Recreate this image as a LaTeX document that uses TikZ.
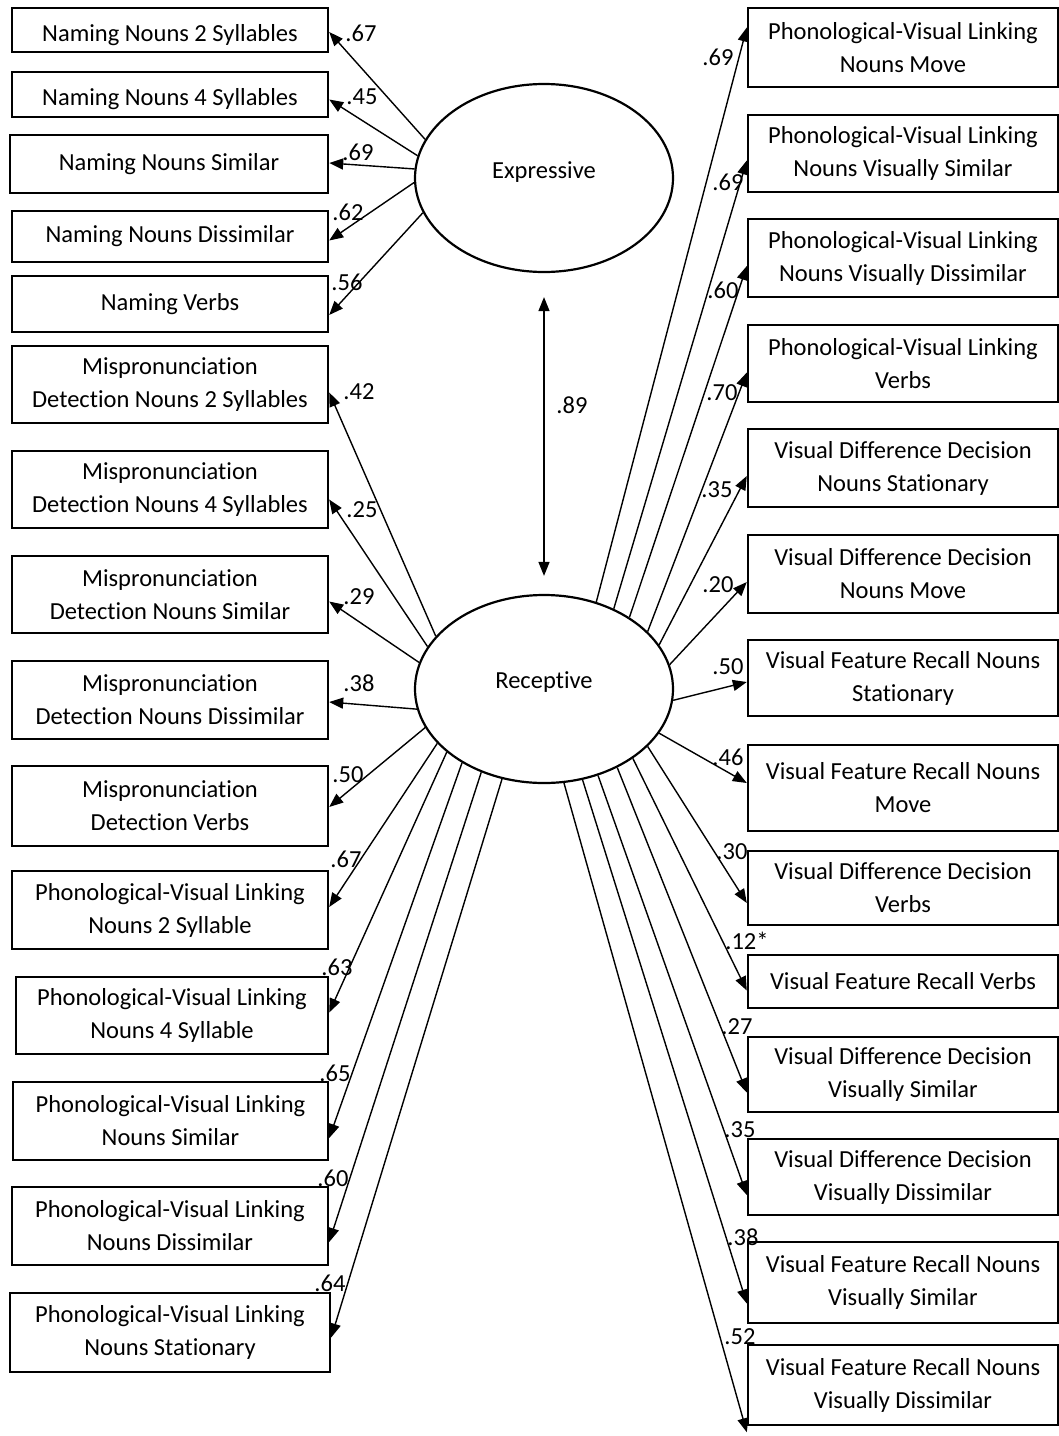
\documentclass[tikz,border=0pt]{standalone}
\usepackage{fontspec}
\setmainfont{Carlito}[Ligatures=NoCommon]
\usetikzlibrary{shapes,arrows.meta,positioning}

\tikzset{
  obs/.style={draw, line width=1.2pt, minimum width=158pt, minimum height=38.5pt,
    inner sep=0pt, align=center, font=\fontsize{12.25}{16.5}\selectfont},
  robs/.style={obs, minimum width=155pt},
  latent/.style={draw, ellipse, line width=1.1pt, minimum width=129pt,
    minimum height=94pt, inner sep=0pt, font=\fontsize{12.25}{16.5}\selectfont},
  loadarrow/.style={-{Triangle[length=7pt,width=5.5pt]}, line width=0.7pt},
  coef/.style={inner sep=0pt, font=\fontsize{12.25}{16.5}\selectfont}
}

\begin{document}
\begin{tikzpicture}[x=0.5pt, y=-0.5pt]
    \useasboundingbox (0,0) rectangle (1059,1436);

    % Factors
    \node [latent] (exp) at (544,178) {\raisebox{8pt}{Expressive}};
    \node [latent] (rec) at (544,689) {\raisebox{8.5pt}{Receptive}};

    % Expressive indicators
    \node [obs, minimum height=22pt] (nam2) at (170,30) {\raisebox{-5pt}[\height]{Naming Nouns 2 Syllables}};
    \node [obs, minimum height=22.5pt] (nam4) at (170,94.5) {\raisebox{-5pt}[\height]{Naming Nouns 4 Syllables}};
    \node [obs, minimum height=29pt, minimum width=159pt] (namsim) at (169,164) {Naming Nouns Similar};
    \node [obs, minimum height=25.5pt] (namdis) at (170,236.5) {Naming Nouns Dissimilar};
    \node [obs, minimum height=28pt] (namverb) at (170,304) {Naming Verbs};

    % Receptive indicators, left
    \node [obs] (mis2) at (170,384.5) {Mispronunciation\\Detection Nouns 2 Syllables};
    \node [obs] (mis4) at (170,489.5) {Mispronunciation\\Detection Nouns 4 Syllables};
    \node [obs] (missim) at (170,594.5) {Mispronunciation\\Detection Nouns Similar};
    \node [obs, minimum height=39pt] (misdis) at (170,700) {Mispronunciation\\Detection Nouns Dissimilar};
    \node [obs, minimum height=40pt] (misverb) at (170,806) {Mispronunciation\\Detection Verbs};
    \node [obs, minimum height=39pt] (pvl2) at (170,910) {Phonological-Visual Linking\\Nouns 2 Syllable};
    \node [obs, minimum width=156pt] (pvl4) at (172,1015.5) {Phonological-Visual Linking\\Nouns 4 Syllable};
    \node [obs, minimum height=39pt, minimum width=157.5pt] (pvlsim) at (170.5,1121) {Phonological-Visual Linking\\Nouns Similar};
    \node [obs, minimum height=39pt] (pvldis) at (170,1226) {Phonological-Visual Linking\\Nouns Dissimilar};
    \node [obs, minimum height=39.5pt, minimum width=160pt] (pvlstat) at (170,1332.5) {Phonological-Visual Linking\\Nouns Stationary};

    % Receptive indicators, right
    \node [robs, minimum height=39.5pt] (pvlmove) at (903,47.5) {Phonological-Visual Linking\\Nouns Move};
    \node [robs] (pvlvsim) at (903,153.5) {Phonological-Visual Linking\\Nouns Visually Similar};
    \node [robs, minimum height=39pt] (pvlvdis) at (903,258) {Phonological-Visual Linking\\Nouns Visually Dissimilar};
    \node [robs] (pvlverb) at (903,363.5) {Phonological-Visual Linking\\Verbs};
    \node [robs, minimum height=39pt] (vddstat) at (903,468) {Visual Difference Decision\\Nouns Stationary};
    \node [robs, minimum height=39pt] (vddmove) at (903,574) {Visual Difference Decision\\Nouns Move};
    \node [robs, minimum height=38pt] (vfrstat) at (903,678) {Visual Feature Recall Nouns\\Stationary};
    \node [robs, minimum height=43pt] (vfrmove) at (903,788) {Visual Feature Recall Nouns\\Move};
    \node [robs, minimum height=37pt] (vddverb) at (903,888) {Visual Difference Decision\\Verbs};
    \node [robs, minimum height=26.5pt] (vfrverb) at (903,981.5) {Visual Feature Recall Verbs};
    \node [robs, minimum height=37.5pt] (vddvsim) at (903,1074.5) {Visual Difference Decision\\Visually Similar};
    \node [robs, minimum height=38pt] (vddvdis) at (903,1177) {Visual Difference Decision\\Visually Dissimilar};
    \node [robs, minimum height=40.5pt] (vfrvsim) at (903,1282.5) {Visual Feature Recall Nouns\\Visually Similar};
    \node [robs, minimum height=40pt] (vfrvdis) at (903,1385) {Visual Feature Recall Nouns\\Visually Dissimilar};

    % Factor correlation
    \draw [{Triangle[length=7pt,width=5.5pt]}-{Triangle[length=7pt,width=5.5pt]}, line width=0.7pt,
      shorten <=12pt, shorten >=9pt] (exp.south) -- (rec.north);
    \node [coef] (r) at (572,405) {.89};

    % Expressive loadings
    \draw [loadarrow] (exp.162) -- ([yshift=-1pt]nam2.east);
    \draw [loadarrow] (exp.170) -- ([yshift=-2.5pt]nam4.east);
    \draw [loadarrow] (exp.176) -- ([yshift=0.5pt]namsim.east);
    \draw [loadarrow] (exp.182) -- ([yshift=-2pt]namdis.east);
    \draw [loadarrow] (exp.196) -- ([yshift=-5.5pt]namverb.east);
    \node [coef] (c-nam2) at (361,33) {.67};
    \node [coef] (c-nam4) at (362,97) {.45};
    \node [coef] (c-namsim) at (358,152) {.69};
    \node [coef] (c-namdis) at (348,212) {.62};
    \node [coef] (c-namverb) at (347,282) {.56};

    % Receptive loadings, left
    \draw [loadarrow] (rec.154.5) -- ([yshift=-4pt]mis2.east);
    \draw [loadarrow] (rec.160) -- ([yshift=-5pt]mis4.east);
    \draw [loadarrow] (rec.168) -- ([yshift=-3.5pt]missim.east);
    \draw [loadarrow] (rec.189) -- ([yshift=-1pt]misdis.east);
    \draw [loadarrow] (rec.198) -- ([yshift=-0.5pt]misverb.east);
    \draw [loadarrow] (rec.207) -- ([yshift=1.5pt]pvl2.east);
    \draw [loadarrow] (rec.213.5) -- ([yshift=1.5pt]pvl4.east);
    \draw [loadarrow] (rec.222.5) -- ([yshift=-8.5pt]pvlsim.east);
    \draw [loadarrow] (rec.233) -- ([yshift=-8pt]pvldis.east);
    \draw [loadarrow] (rec.245.5) -- ([yshift=-2.5pt]pvlstat.east);
    \node [coef] (c-mis2) at (359,392) {.42};
    \node [coef] (c-mis4) at (362,510) {.25};
    \node [coef] (c-missim) at (359,597) {.29};
    \node [coef] (c-misdis) at (359,683) {.38};
    \node [coef] (c-misverb) at (348,775) {.50};
    \node [coef] (c-pvl2) at (346,859) {.67};
    \node [coef] (c-pvl4) at (337,967) {.63};
    \node [coef] (c-pvlsim) at (335,1073) {.65};
    \node [coef] (c-pvldis) at (333,1178) {.60};
    \node [coef] (c-pvlstat) at (330,1283) {.64};

    % Receptive loadings, right
    \draw [loadarrow] (rec.59.5) -- ([yshift=10pt]pvlmove.west);
    \draw [loadarrow] (rec.49) -- ([yshift=-3.5pt]pvlvsim.west);
    \draw [loadarrow] (rec.40.5) -- ([yshift=-4pt]pvlvdis.west);
    \draw [loadarrow] (rec.29.5) -- ([yshift=-4.5pt]pvlverb.west);
    \draw [loadarrow] (rec.21.5) -- ([yshift=-4pt]vddstat.west);
    \draw [loadarrow] (rec.11) -- ([yshift=-4pt]vddmove.west);
    \draw [loadarrow] (rec.-5) -- ([yshift=-2pt]vfrstat.west);
    \draw [loadarrow] (rec.-21) -- ([yshift=2.5pt]vfrmove.west);
    \draw [loadarrow] (rec.-29) -- ([yshift=-7.5pt]vddverb.west);
    \draw [loadarrow] (rec.-38) -- ([yshift=-4.5pt]vfrverb.west);
    \draw [loadarrow] (rec.-47.5) -- ([yshift=-9pt]vddvsim.west);
    \draw [loadarrow] (rec.-58.5) -- ([yshift=-9pt]vddvdis.west);
    \draw [loadarrow] (rec.-67) -- ([yshift=-10.5pt]vfrvsim.west);
    \draw [loadarrow] (rec.-78.5) -- ([yshift=-3pt]vfrvdis.south west);
    \node [coef] (c-pvlmove) at (718,57) {.69};
    \node [coef] (c-pvlvsim) at (728,182) {.69};
    \node [coef] (c-pvlvdis) at (723,290) {.60};
    \node [coef] (c-pvlverb) at (722,393) {.70};
    \node [coef] (c-vddstat) at (717,490) {.35};
    \node [coef] (c-vddmove) at (718,585) {.20};
    \node [coef] (c-vfrstat) at (728,667) {.50};
    \node [coef] (c-vfrmove) at (728,757) {.46};
    \node [coef] (c-vddverb) at (732,852) {.30};
    \node [coef] (c-vfrverb) at (747,941) {.12*};
    \node [coef] (c-vddvsim) at (737,1027) {.27};
    \node [coef] (c-vddvdis) at (740,1130) {.35};
    \node [coef] (c-vfrvsim) at (743,1237) {.38};
    \node [coef] (c-vfrvdis) at (740,1337) {.52};
\end{tikzpicture}
\end{document}
